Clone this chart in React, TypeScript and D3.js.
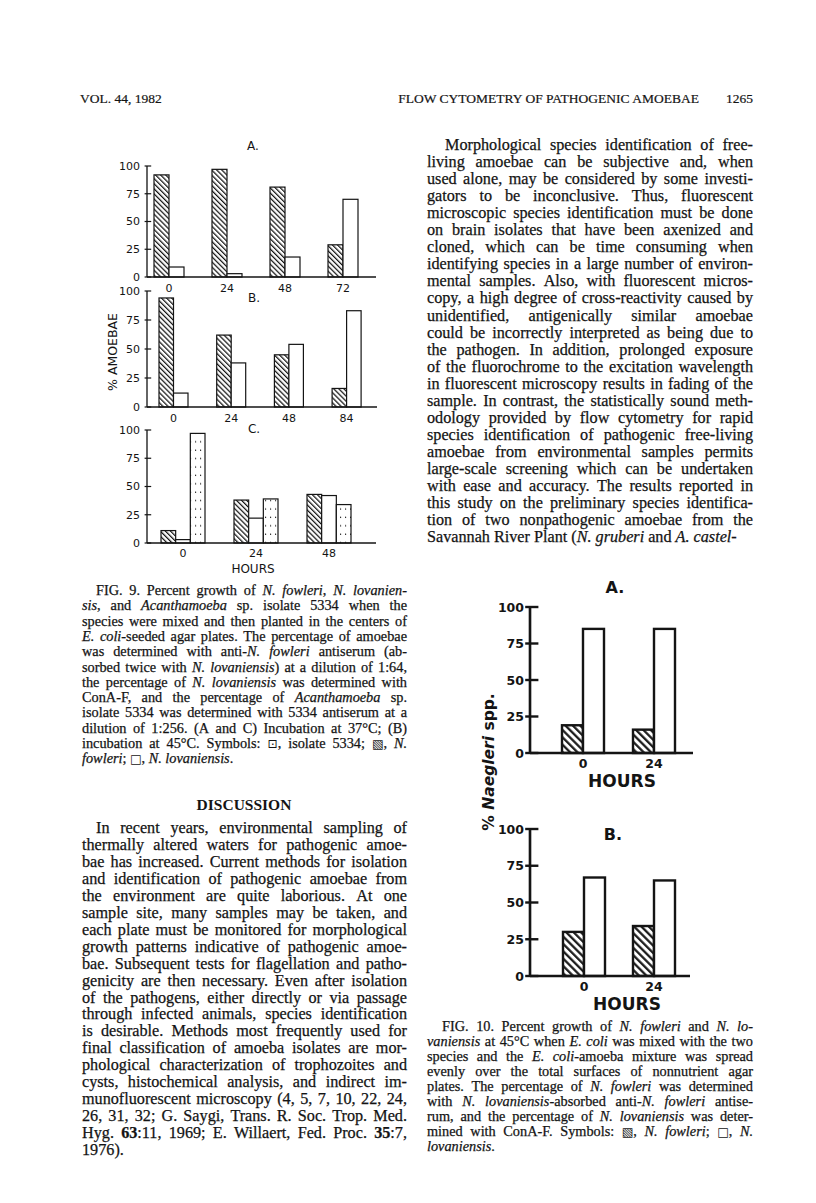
import React from "react";
import * as d3 from "d3";

// ---------- DATA ----------
const yTicks = [0, 25, 50, 75, 100];

const fig9A_hours = ["0", "24", "48", "72"];
const fig9A_fowleri = [92, 97, 81, 29];
const fig9A_lovaniensis = [9, 3, 18, 70];

const fig9B_hours = ["0", "24", "48", "84"];
const fig9B_fowleri = [94, 62, 45, 16];
const fig9B_lovaniensis = [12, 38, 54, 83];

const fig9C_hours = ["0", "24", "48"];
const fig9C_fowleri = [11, 38, 43];
const fig9C_lovaniensis = [3, 22, 42];
const fig9C_isolate5334 = [97, 39, 34];

const fig10_hours = ["0", "24"];
const fig10A_fowleri = [19, 16];
const fig10A_lovaniensis = [85, 85];
const fig10B_fowleri = [30, 34];
const fig10B_lovaniensis = [67, 65];

const headerLeft = "VOL. 44, 1982";
const headerTitle = "FLOW CYTOMETRY OF PATHOGENIC AMOEBAE";
const headerPage = "1265";

const fig9Caption = [
  "FIG. 9. Percent growth of _N. fowleri_, _N. lovanien-_",
  "_sis_, and _Acanthamoeba_ sp. isolate 5334 when the",
  "species were mixed and then planted in the centers of",
  "_E. coli_-seeded agar plates. The percentage of amoebae",
  "was determined with anti-_N. fowleri_ antiserum (ab-",
  "sorbed twice with _N. lovaniensis_) at a dilution of 1:64,",
  "the percentage of _N. lovaniensis_ was determined with",
  "ConA-F, and the percentage of _Acanthamoeba_ sp.",
  "isolate 5334 was determined with 5334 antiserum at a",
  "dilution of 1:256. (A and C) Incubation at 37°C; (B)",
  "incubation at 45°C. Symbols: ⊡, isolate 5334; ▧, _N._",
  "_fowleri_; □, _N. lovaniensis_.",
];

const discussionTitle = "DISCUSSION";

const discussionBody = [
  "In recent years, environmental sampling of",
  "thermally altered waters for pathogenic amoe-",
  "bae has increased. Current methods for isolation",
  "and identification of pathogenic amoebae from",
  "the environment are quite laborious. At one",
  "sample site, many samples may be taken, and",
  "each plate must be monitored for morphological",
  "growth patterns indicative of pathogenic amoe-",
  "bae. Subsequent tests for flagellation and patho-",
  "genicity are then necessary. Even after isolation",
  "of the pathogens, either directly or via passage",
  "through infected animals, species identification",
  "is desirable. Methods most frequently used for",
  "final classification of amoeba isolates are mor-",
  "phological characterization of trophozoites and",
  "cysts, histochemical analysis, and indirect im-",
  "munofluorescent microscopy (4, 5, 7, 10, 22, 24,",
  "26, 31, 32; G. Saygi, Trans. R. Soc. Trop. Med.",
  "Hyg. *63*:11, 1969; E. Willaert, Fed. Proc. *35*:7,",
  "1976).",
];

const rightBody = [
  "Morphological species identification of free-",
  "living amoebae can be subjective and, when",
  "used alone, may be considered by some investi-",
  "gators to be inconclusive. Thus, fluorescent",
  "microscopic species identification must be done",
  "on brain isolates that have been axenized and",
  "cloned, which can be time consuming when",
  "identifying species in a large number of environ-",
  "mental samples. Also, with fluorescent micros-",
  "copy, a high degree of cross-reactivity caused by",
  "unidentified, antigenically similar amoebae",
  "could be incorrectly interpreted as being due to",
  "the pathogen. In addition, prolonged exposure",
  "of the fluorochrome to the excitation wavelength",
  "in fluorescent microscopy results in fading of the",
  "sample. In contrast, the statistically sound meth-",
  "odology provided by flow cytometry for rapid",
  "species identification of pathogenic free-living",
  "amoebae from environmental samples permits",
  "large-scale screening which can be undertaken",
  "with ease and accuracy. The results reported in",
  "this study on the preliminary species identifica-",
  "tion of two nonpathogenic amoebae from the",
  "Savannah River Plant (_N. gruberi_ and _A. castel-_",
];

const fig10Caption = [
  "FIG. 10. Percent growth of _N. fowleri_ and _N. lo-_",
  "_vaniensis_ at 45°C when _E. coli_ was mixed with the two",
  "species and the _E. coli_-amoeba mixture was spread",
  "evenly over the total surfaces of nonnutrient agar",
  "plates. The percentage of _N. fowleri_ was determined",
  "with _N. lovaniensis_-absorbed anti-_N. fowleri_ antise-",
  "rum, and the percentage of _N. lovaniensis_ was deter-",
  "mined with ConA-F. Symbols: ▧, _N. fowleri_; □, _N._",
  "_lovaniensis_.",
];

// ---------- STYLE ----------
const INK = "#141414";
const SERIF_NAME = "'Liberation Serif'";
const SERIF = "'Liberation Serif', 'Times New Roman', serif";
const SYM_NAME = "'DejaVu Sans'";
const FIG = "'DejaVu Sans', 'Liberation Sans', sans-serif";
const SYMS = "⊡▧□";

type Run = { t: string; i: boolean; b: boolean; sym: boolean };

function parseRuns(s: string): Run[] {
  const out: Run[] = [];
  let i = false;
  let b = false;
  let cur = "";
  const push = () => {
    if (cur) out.push({ t: cur, i, b, sym: false });
    cur = "";
  };
  for (const ch of s) {
    if (ch === "_") {
      push();
      i = !i;
    } else if (ch === "*") {
      push();
      b = !b;
    } else if (SYMS.includes(ch)) {
      push();
      out.push({ t: ch, i: false, b: false, sym: true });
    } else cur += ch;
  }
  push();
  return out;
}

let ctx: CanvasRenderingContext2D | null = null;
function measure(t: string, r: { i: boolean; b: boolean; sym: boolean }, fs: number): number {
  if (typeof document === "undefined") return t.length * fs * 0.45;
  if (!ctx) ctx = document.createElement("canvas").getContext("2d");
  if (!ctx) return t.length * fs * 0.45;
  const size = r.sym ? fs * 0.85 : fs;
  ctx.font = `${r.i ? "italic " : ""}${r.b ? "bold " : ""}${size}px ${r.sym ? SYM_NAME : SERIF_NAME}`;
  return ctx.measureText(t).width;
}

type Piece = Run;
type Word = { pieces: Piece[]; w: number };

function splitWords(runs: Run[], fs: number): Word[] {
  const words: Word[] = [];
  let cur: Piece[] = [];
  const flush = () => {
    if (cur.length) {
      const w = cur.reduce((a, p) => a + measure(p.t, p, fs), 0);
      words.push({ pieces: cur, w });
    }
    cur = [];
  };
  runs.forEach((r) => {
    const parts = r.t.split(" ");
    parts.forEach((pt, k) => {
      if (k > 0) flush();
      if (pt) cur.push({ ...r, t: pt });
    });
  });
  flush();
  return words;
}

function TextBlock(props: {
  lines: string[];
  x: number;
  width: number;
  y0: number;
  lh: number;
  fs: number;
  indent: number;
}) {
  const { lines, x, width, y0, lh, fs, indent } = props;
  const spaceW = measure(" ", { i: false, b: false, sym: false }, fs);
  return (
    <g fill={INK} fontFamily={SERIF} fontSize={fs} stroke={INK} strokeWidth={0.25}>
      {lines.map((ln, k) => {
        const lx = k === 0 ? x + indent : x;
        const w = k === 0 ? width - indent : width;
        const justify = k < lines.length - 1;
        const words = splitWords(parseRuns(ln), fs);
        const total = words.reduce((a, wd) => a + wd.w, 0);
        const gaps = words.length - 1;
        const gap = justify && gaps > 0 ? (w - total) / gaps : spaceW;
        let cx = lx;
        const positions = words.map((wd) => {
          const px = cx;
          cx += wd.w + gap;
          return px;
        });
        return (
          <text key={k} y={y0 + k * lh}>
            {words.map((wd, wi) =>
              wd.pieces.map((p, pi) => (
                <tspan
                  key={wi + "-" + pi}
                  x={pi === 0 ? positions[wi] : undefined}
                  fontStyle={p.i ? "italic" : "normal"}
                  fontWeight={p.b ? "bold" : "normal"}
                  fontFamily={p.sym ? "'DejaVu Sans', sans-serif" : undefined}
                  fontSize={p.sym ? fs * 0.85 : undefined}
                  strokeWidth={p.sym ? 0 : undefined}
                >
                  {p.t}
                </tspan>
              ))
            )}
          </text>
        );
      })}
    </g>
  );
}

type Series = { values: number[]; fill: string };

function BarPanel(props: {
  cats: string[];
  series: Series[];
  yTop: number;
  yBottom: number;
  axisX: number;
  axisEnd: number;
  start: number;
  step: number;
  bw: number;
  fs: number;
  bold: boolean;
  sw: number;
  labelGap: number;
  tickLabelRight: number;
}) {
  const { cats, series, yTop, yBottom, axisX, axisEnd, start, step, bw, fs, bold, sw, labelGap, tickLabelRight } = props;
  const n = cats.length;
  const p = 1 - bw / step;
  const x = d3
    .scaleBand<string>()
    .domain(cats)
    .range([start, start + step * (n - p)])
    .paddingInner(p)
    .paddingOuter(0);
  const inner = d3
    .scaleBand<number>()
    .domain(series.map((_, i) => i))
    .range([0, x.bandwidth()])
    .padding(0);
  const y = d3.scaleLinear().domain([0, 100]).range([yBottom, yTop]);
  const fw = bold ? "bold" : "normal";
  return (
    <g>
      {cats.map((c, ci) =>
        series.map((s, si) => {
          const v = s.values[ci];
          return (
            <rect
              key={c + "-" + si}
              x={(x(c) as number) + (inner(si) as number)}
              y={y(v)}
              width={inner.bandwidth()}
              height={y(0) - y(v)}
              fill={s.fill}
              stroke={INK}
              strokeWidth={sw}
            />
          );
        })
      )}
      <line x1={axisX} x2={axisX} y1={y(100)} y2={y(0)} stroke={INK} strokeWidth={sw * 1.1} />
      <line x1={axisX} x2={axisEnd} y1={y(0)} y2={y(0)} stroke={INK} strokeWidth={sw * 1.1} />
      {yTicks.map((t) => (
        <g key={t}>
          <line x1={axisX - sw * 2} x2={axisX + sw * 3.5} y1={y(t)} y2={y(t)} stroke={INK} strokeWidth={sw} />
          <text
            x={tickLabelRight}
            y={y(t) + fs * 0.36}
            textAnchor="end"
            fontFamily={FIG}
            fontSize={fs}
            fontWeight={fw}
            fill={INK}
          >
            {t}
          </text>
        </g>
      ))}
      {cats.map((c) => (
        <text
          key={"l" + c}
          x={(x(c) as number) + x.bandwidth() / 2}
          y={y(0) + labelGap}
          textAnchor="middle"
          fontFamily={FIG}
          fontSize={fs}
          fontWeight={fw}
          fill={INK}
        >
          {c}
        </text>
      ))}
    </g>
  );
}

export default function App() {
  const hatch9 = "url(#hatch9)";
  const hatch10 = "url(#hatch10)";
  const dots = "url(#dots9)";
  return (
    <svg
      width={816}
      height={1203}
      viewBox="0 0 816 1203"
      style={{ position: "absolute", left: 0, top: 0, background: "#fff" }}
    >
      <defs>
        <pattern id="hatch9" patternUnits="userSpaceOnUse" width={3.6} height={10} patternTransform="rotate(-45)">
          <rect width={3.6} height={10} fill="#fff" />
          <line x1={0.6} x2={0.6} y1={0} y2={10} stroke={INK} strokeWidth={1.3} />
        </pattern>
        <pattern id="hatch10" patternUnits="userSpaceOnUse" width={5.2} height={10} patternTransform="rotate(-45)">
          <rect width={5.2} height={10} fill="#fff" />
          <line x1={1.2} x2={1.2} y1={0} y2={10} stroke={INK} strokeWidth={2.2} />
        </pattern>
        <pattern id="dots9" patternUnits="userSpaceOnUse" width={5} height={8.4} x={0} y={1}>
          <rect width={5} height={8.4} fill="#fff" />
          <circle cx={0.5} cy={4} r={0.75} fill={INK} />
        </pattern>
      </defs>
      <rect width={816} height={1203} fill="#fff" />

      {/* Header */}
      <g fill={INK} fontFamily={SERIF} fontSize={13.5} stroke={INK} strokeWidth={0.2}>
        <text x={80} y={103}>{headerLeft}</text>
        <text x={699} y={103} textAnchor="end">{headerTitle}</text>
        <text x={753} y={103} textAnchor="end">{headerPage}</text>
      </g>

      {/* FIG. 9 */}
      <g fill={INK} fontFamily={FIG} fontSize={12}>
        <text x={253} y={150} textAnchor="middle">A.</text>
        <text x={254} y={302} textAnchor="middle">B.</text>
        <text x={254} y={433} textAnchor="middle">C.</text>
        <text x={253} y={573} textAnchor="middle">HOURS</text>
        <text transform="translate(117,352) rotate(-90)" textAnchor="middle" fontSize={12.5}>
          % AMOEBAE
        </text>
      </g>
      <BarPanel
        cats={fig9A_hours}
        series={[
          { values: fig9A_fowleri, fill: hatch9 },
          { values: fig9A_lovaniensis, fill: "#fff" },
        ]}
        yTop={166}
        yBottom={277}
        axisX={147}
        axisEnd={376}
        start={154}
        step={58}
        bw={30}
        fs={11}
        bold={false}
        sw={1.2}
        labelGap={15}
        tickLabelRight={140}
      />
      <BarPanel
        cats={fig9B_hours}
        series={[
          { values: fig9B_fowleri, fill: hatch9 },
          { values: fig9B_lovaniensis, fill: "#fff" },
        ]}
        yTop={291}
        yBottom={407}
        axisX={147}
        axisEnd={377}
        start={159}
        step={57.7}
        bw={29}
        fs={11}
        bold={false}
        sw={1.2}
        labelGap={15}
        tickLabelRight={140}
      />
      <BarPanel
        cats={fig9C_hours}
        series={[
          { values: fig9C_fowleri, fill: hatch9 },
          { values: fig9C_lovaniensis, fill: "#fff" },
          { values: fig9C_isolate5334, fill: dots },
        ]}
        yTop={430}
        yBottom={543}
        axisX={147}
        axisEnd={376}
        start={161}
        step={73}
        bw={44}
        fs={11}
        bold={false}
        sw={1.2}
        labelGap={14}
        tickLabelRight={140}
      />

      <TextBlock lines={fig9Caption} x={82} width={325} y0={595} lh={15.3} fs={14.3} indent={14} />

      <text x={244} y={810} textAnchor="middle" fontFamily={SERIF} fontWeight="bold" fontSize={15.5} fill={INK}>
        {discussionTitle}
      </text>
      <TextBlock lines={discussionBody} x={82} width={325} y0={833} lh={16.95} fs={16.2} indent={14} />

      <TextBlock lines={rightBody} x={427} width={326} y0={150} lh={17.05} fs={16.2} indent={18} />

      {/* FIG. 10 */}
      <g fill={INK} fontFamily={FIG} fontWeight="bold">
        <text x={615} y={593} textAnchor="middle" fontSize={16}>A.</text>
        <text x={613} y={840} textAnchor="middle" fontSize={16}>B.</text>
        <text x={622} y={787} textAnchor="middle" fontSize={17}>HOURS</text>
        <text x={627} y={1010} textAnchor="middle" fontSize={17}>HOURS</text>
        <text transform="translate(494,762) rotate(-90)" textAnchor="middle" fontSize={15.5}>
          <tspan>% </tspan>
          <tspan fontStyle="italic">Naegleri</tspan>
          <tspan> spp.</tspan>
        </text>
      </g>
      <BarPanel
        cats={fig10_hours}
        series={[
          { values: fig10A_fowleri, fill: hatch10 },
          { values: fig10A_lovaniensis, fill: "#fff" },
        ]}
        yTop={607}
        yBottom={753}
        axisX={530}
        axisEnd={693}
        start={562}
        step={71}
        bw={42}
        fs={12.5}
        bold={true}
        sw={2.4}
        labelGap={15}
        tickLabelRight={524}
      />
      <BarPanel
        cats={fig10_hours}
        series={[
          { values: fig10B_fowleri, fill: hatch10 },
          { values: fig10B_lovaniensis, fill: "#fff" },
        ]}
        yTop={829}
        yBottom={976}
        axisX={530}
        axisEnd={690}
        start={563}
        step={70}
        bw={42}
        fs={12.5}
        bold={true}
        sw={2.4}
        labelGap={15}
        tickLabelRight={524}
      />

      <TextBlock lines={fig10Caption} x={427} width={326} y0={1031} lh={15} fs={14.3} indent={15} />
    </svg>
  );
}
